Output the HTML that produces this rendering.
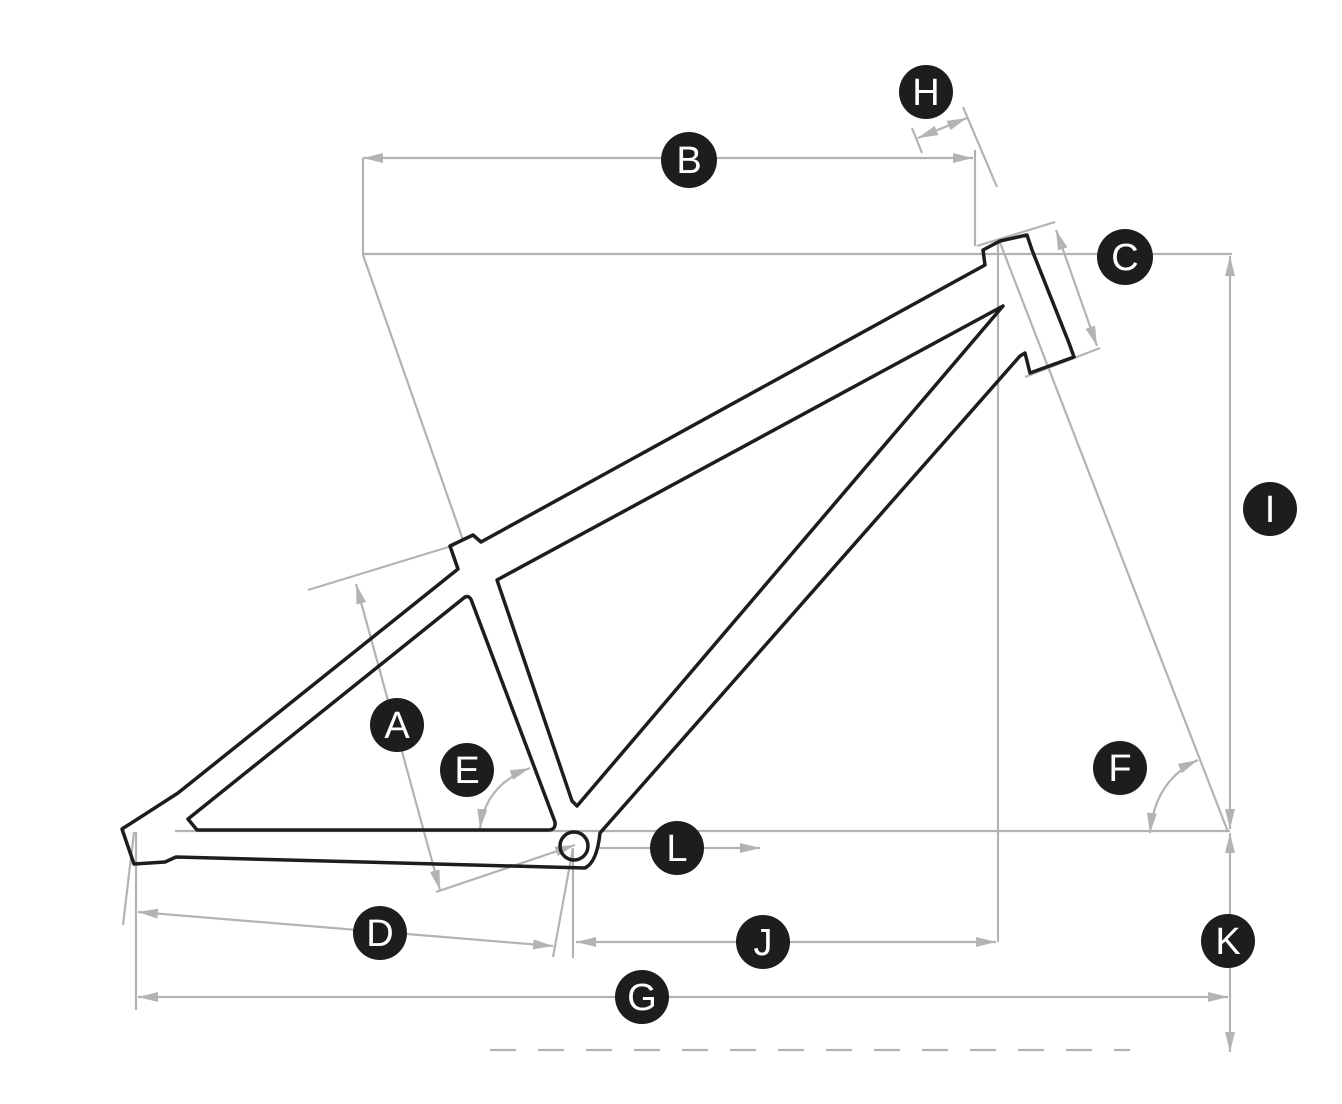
<!DOCTYPE html>
<html><head><meta charset="utf-8"><style>
html,body{margin:0;padding:0;background:#fff}
svg{display:block}
.g{stroke:#b3b3b3;stroke-width:2.2;fill:none}
.f{stroke:#1d1d1b;stroke-width:3.5;fill:none;stroke-linejoin:round}
.t{font-family:"Liberation Sans",sans-serif;font-size:38px;fill:#fff;text-anchor:middle;dominant-baseline:central}
</style></head><body>
<svg width="1342" height="1104" viewBox="0 0 1342 1104" xmlns="http://www.w3.org/2000/svg">
<defs>
<marker id="a" viewBox="0 0 20 10" refX="20" refY="5" markerWidth="20" markerHeight="10" markerUnits="userSpaceOnUse" orient="auto-start-reverse"><path d="M0,0 L20,5 L0,10 z" fill="#b3b3b3"/></marker>
</defs>
<!-- gray construction lines -->
<g class="g">
<line x1="363" y1="158" x2="973" y2="158" marker-start="url(#a)" marker-end="url(#a)"/>
<line x1="363" y1="158" x2="363" y2="255"/>
<line x1="975" y1="150" x2="975" y2="246"/>
<line x1="363" y1="254" x2="1232" y2="254"/>
<line x1="363" y1="255" x2="463" y2="540"/>
<line x1="912" y1="128" x2="922" y2="153"/>
<line x1="963" y1="107" x2="997" y2="187"/>
<line x1="918" y1="138" x2="967" y2="118" marker-start="url(#a)" marker-end="url(#a)"/>
<line x1="977" y1="246" x2="1055" y2="222"/>
<line x1="1025" y1="377" x2="1100" y2="348"/>
<line x1="1056" y1="230" x2="1097" y2="346" marker-start="url(#a)" marker-end="url(#a)"/>
<line x1="999" y1="240" x2="1228" y2="832"/>
<line x1="998" y1="240" x2="998" y2="942"/>
<line x1="1230" y1="256" x2="1230" y2="829" marker-start="url(#a)" marker-end="url(#a)"/>
<line x1="1230" y1="833" x2="1230" y2="1052" marker-start="url(#a)" marker-end="url(#a)"/>
<line x1="175" y1="831" x2="1230" y2="831"/>
<line x1="598" y1="848" x2="760" y2="848" marker-end="url(#a)"/>
<line x1="308" y1="590" x2="455" y2="545"/>
<line x1="356" y1="584" x2="440" y2="890" marker-start="url(#a)" marker-end="url(#a)"/>
<line x1="436" y1="892" x2="575" y2="845" marker-end="url(#a)"/>
<line x1="138" y1="912" x2="553" y2="946" marker-start="url(#a)" marker-end="url(#a)"/>
<line x1="136" y1="832" x2="136" y2="1010"/>
<line x1="123" y1="925" x2="134" y2="832"/>
<line x1="553" y1="957" x2="573" y2="848"/>
<line x1="573" y1="848" x2="573" y2="958"/>
<line x1="576" y1="942" x2="996" y2="942" marker-start="url(#a)" marker-end="url(#a)"/>
<line x1="138" y1="997" x2="1228" y2="997" marker-start="url(#a)" marker-end="url(#a)"/>
<line x1="490" y1="1050" x2="1130" y2="1050" stroke-dasharray="26,22"/>
<path d="M480,829 Q485,785 530,768" marker-start="url(#a)" marker-end="url(#a)"/>
<path d="M1150,833 Q1155,780 1198,760" marker-start="url(#a)" marker-end="url(#a)"/>
</g>
<!-- frame -->
<g class="f">
<path d="M122,829 L178,793 L458,569 L450,546 L473,535 L481,542 L985,265 L983,250 L1000,241 L1027,235 L1032,250 L1069,343 L1074,357 L1030,373 L1025,353 L1020,356 L600,833 Q597,862 585,868 L176,857 L165,862 L134,864 Z"/>
<path d="M497,580 L1003,306 L577,806 L572,801 Z"/>
<path d="M465,597 Q470,595 472,602 L555,822 Q556,830 548,830 L197,830 L188,819 Z"/>
<circle cx="574" cy="846" r="14"/>
</g>
<!-- labels -->
<g>
<circle cx="926" cy="92" r="27" fill="#1d1d1b"/><text class="t" x="926" y="93">H</text>
<circle cx="689" cy="160" r="28" fill="#1d1d1b"/><text class="t" x="689" y="161">B</text>
<circle cx="1125" cy="257" r="28" fill="#1d1d1b"/><text class="t" x="1125" y="258">C</text>
<circle cx="1270" cy="509" r="27" fill="#1d1d1b"/><text class="t" x="1270" y="510">I</text>
<circle cx="397" cy="725" r="27" fill="#1d1d1b"/><text class="t" x="397" y="726">A</text>
<circle cx="467" cy="770" r="27" fill="#1d1d1b"/><text class="t" x="467" y="771">E</text>
<circle cx="1120" cy="768" r="27" fill="#1d1d1b"/><text class="t" x="1120" y="769">F</text>
<circle cx="677" cy="848" r="27" fill="#1d1d1b"/><text class="t" x="677" y="849">L</text>
<circle cx="380" cy="933" r="27" fill="#1d1d1b"/><text class="t" x="380" y="934">D</text>
<circle cx="763" cy="942" r="27" fill="#1d1d1b"/><text class="t" x="763" y="943">J</text>
<circle cx="1228" cy="941" r="27" fill="#1d1d1b"/><text class="t" x="1228" y="942">K</text>
<circle cx="642" cy="997" r="27" fill="#1d1d1b"/><text class="t" x="642" y="998">G</text>
</g>
</svg>
</body></html>
